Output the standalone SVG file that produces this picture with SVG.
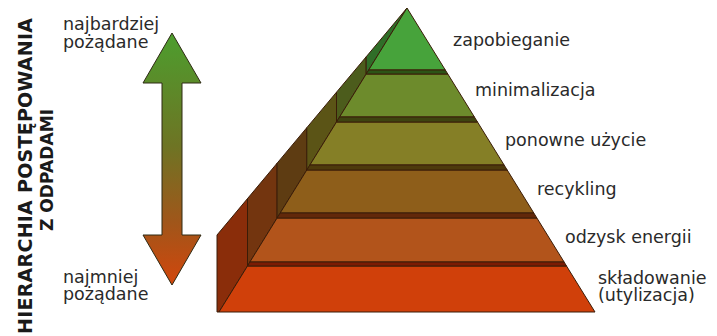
<svg xmlns="http://www.w3.org/2000/svg" width="717" height="336" viewBox="0 0 717 336">
  <defs>
    <linearGradient id="arrowGrad" gradientUnits="userSpaceOnUse" x1="0" y1="33" x2="0" y2="285">
      <stop offset="0" stop-color="#4c9e2e"/>
      <stop offset="0.45" stop-color="#6e7424"/>
      <stop offset="0.75" stop-color="#a0561a"/>
      <stop offset="1" stop-color="#d2460c"/>
    </linearGradient>
    <style>
      .lbl { font-family: "DejaVu Sans", "Liberation Sans", sans-serif; font-size: 17.5px; fill: #2a2a2a; }
      .title { font-family: "DejaVu Sans", "Liberation Sans", sans-serif; font-weight: bold; fill: #1a1a1a; text-anchor: middle; }
      .edge { stroke: #3a1c08; stroke-width: 1; stroke-linejoin: round; }
    </style>
  </defs>
  <rect width="717" height="336" fill="#ffffff"/>

  <g id="title">
    <text class="title" font-size="19" transform="translate(32,176) rotate(-90)" textLength="316" lengthAdjust="spacing">HIERARCHIA POSTĘPOWANIA</text>
    <text class="title" font-size="18" transform="translate(53,170) rotate(-90)" textLength="122" lengthAdjust="spacingAndGlyphs">Z ODPADAMI</text>
  </g>

  <g id="arrow">
    <path d="M172,33 L201,83 L182,83 L182,235 L201,235 L172,285 L143,235 L162,235 L162,83 L143,83 Z" fill="url(#arrowGrad)" stroke="#2e2a14" stroke-width="1" stroke-linejoin="miter"/>
  </g>

  <g id="axis-labels">
    <text class="lbl" x="63" y="30">najbardziej</text>
    <text class="lbl" x="63" y="48">pożądane</text>
    <text class="lbl" x="63" y="283">najmniej</text>
    <text class="lbl" x="63" y="300">pożądane</text>
  </g>

  <g id="pyramid">
    <g id="level-6">
      <polygon class="edge" points="247.5,198.6 247.5,266 219,312 217,312 217,235" fill="#8a2d0a"/>
      <polygon class="edge" points="247.5,266 566.5,266 595,312 219,312" fill="#d0400a"/>
      <text class="lbl" x="598" y="284">składowanie</text>
      <text class="lbl" x="598" y="301">(utylizacja)</text>
    </g>
    <g id="level-5">
      <polygon class="edge" points="277.1,163.2 277.1,218 247.5,266 247.5,198.6" fill="#73350f"/>
      <polygon class="edge" points="277.1,218 536.9,218 564.1,262 249.9,262" fill="#b2541b"/>
      <polygon class="edge" points="249.9,262 564.1,262 566.5,266 247.5,266" fill="#7a1c04"/>
      <text class="lbl" x="565" y="243">odzysk energii</text>
    </g>
    <g id="level-4">
      <polygon class="edge" points="306.8,127.7 306.8,170 277.1,218 277.1,163.2" fill="#5e3c12"/>
      <polygon class="edge" points="306.8,170 507.2,170 533.8,213 280.2,213" fill="#8e5e1a"/>
      <polygon class="edge" points="280.2,213 533.8,213 536.9,218 277.1,218" fill="#62280a"/>
      <text class="lbl" x="537" y="195">recykling</text>
    </g>
    <g id="level-3">
      <polygon class="edge" points="336.5,92.2 336.5,122 306.8,170 306.8,127.7" fill="#5b5416"/>
      <polygon class="edge" points="336.5,122 477.5,122 504.1,165 309.9,165" fill="#857f26"/>
      <polygon class="edge" points="309.9,165 504.1,165 507.2,170 306.8,170" fill="#4e3a0c"/>
      <text class="lbl" x="505" y="146">ponowne użycie</text>
    </g>
    <g id="level-2">
      <polygon class="edge" points="366.2,56.8 366.2,74 336.5,122 336.5,92.2" fill="#4c5c1c"/>
      <polygon class="edge" points="366.2,74 447.8,74 474.4,117 339.6,117" fill="#6d8b2c"/>
      <polygon class="edge" points="339.6,117 474.4,117 477.5,122 336.5,122" fill="#3e4410"/>
      <text class="lbl" x="475" y="96">minimalizacja</text>
    </g>
    <g id="level-1">
      <polygon class="edge" points="407,8 366.2,56.8 366.2,74" fill="#2f6e28"/>
      <polygon class="edge" points="407,8 445.3,70 368.7,70" fill="#47a33b"/>
      <polygon class="edge" points="368.7,70 445.3,70 447.8,74 366.2,74" fill="#2c5416"/>
      <text class="lbl" x="453" y="46">zapobieganie</text>
    </g>
  </g>
</svg>
